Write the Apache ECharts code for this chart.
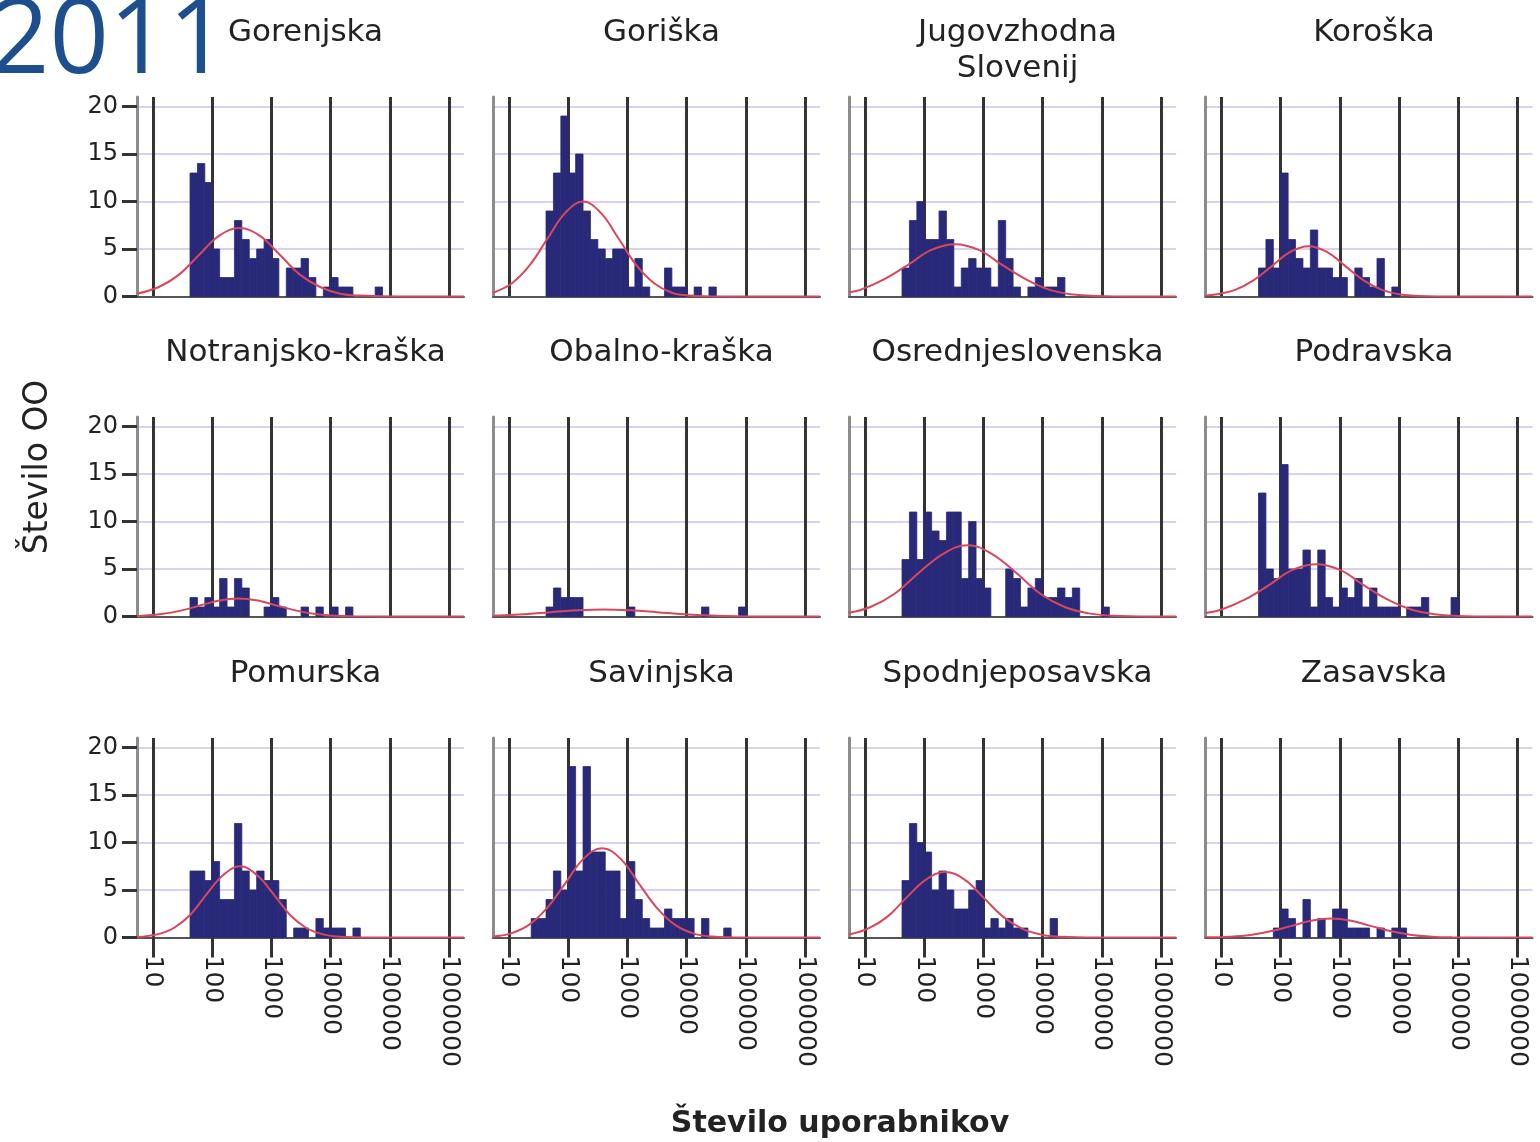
<!DOCTYPE html>
<html>
<head>
<meta charset="utf-8">
<script src="https://cdn.jsdelivr.net/npm/echarts@6/dist/echarts.min.js"></script>
<style>
  html, body { margin: 0; padding: 0; background: #fff; }
  #chart { width: 1540px; height: 1142px; }
</style>
</head>
<body>
<div id="chart"></div>
<script>
// histogram bins are in log10(users), 1/8 decade wide
const binWidth = 0.125;
const xTickValues = [1, 2, 3, 4, 5, 6];
const xTickLabels = ['10', '100', '1000', '10000', '100000', '1000000'];
const yTickValues = [0, 5, 10, 15, 20];

const regions = ['Gorenjska', 'Goriška', 'Jugovzhodna\nSlovenij', 'Koroška',
  'Notranjsko-kraška', 'Obalno-kraška', 'Osrednjeslovenska', 'Podravska',
  'Pomurska', 'Savinjska', 'Spodnjeposavska', 'Zasavska'];

// first bin start (log10) for each region
const binStarts = [1.625, 1.625, 1.625, 1.625, 1.625, 1.625, 1.625, 1.625, 1.625, 1.375, 1.625, 1.875];

const gorenjskaCounts = [13, 14, 12, 5, 2, 2, 8, 6, 4, 5, 6, 4, 0, 3, 3, 4, 2, 0, 1, 2, 1, 1, 0, 0, 0, 1];
const goriskaCounts = [9, 13, 19, 13, 15, 9, 6, 5, 4, 5, 5, 1, 4, 1, 0, 0, 3, 1, 1, 0, 1, 0, 1];
const jugovzhodnaCounts = [3, 8, 10, 6, 6, 9, 6, 1, 3, 4, 3, 3, 1, 8, 4, 1, 0, 1, 2, 1, 1, 2];
const koroskaCounts = [3, 6, 3, 13, 6, 4, 3, 7, 3, 3, 2, 2, 0, 3, 2, 1, 4, 0, 1];
const notranjskoCounts = [2, 1, 2, 1, 4, 1, 4, 3, 0, 0, 1, 2, 1, 0, 0, 1, 0, 1, 0, 1, 0, 1];
const obalnoCounts = [1, 3, 2, 2, 2, 0, 0, 0, 0, 0, 0, 1, 0, 0, 0, 0, 0, 0, 0, 0, 0, 1, 0, 0, 0, 0, 1];
const osrednjeCounts = [6, 11, 6, 11, 9, 8, 11, 11, 4, 10, 4, 3, 0, 0, 5, 4, 1, 3, 4, 2, 2, 3, 2, 3, 0, 0, 0, 1];
const podravskaCounts = [13, 5, 4, 16, 5, 5, 7, 1, 7, 2, 1, 3, 2, 4, 1, 3, 1, 1, 1, 0, 1, 1, 2, 0, 0, 0, 2];
const pomurskaCounts = [7, 7, 6, 8, 4, 4, 12, 7, 5, 7, 6, 6, 4, 0, 1, 1, 0, 2, 1, 1, 1, 0, 1];
const savinjskaCounts = [2, 2, 4, 7, 5, 18, 7, 18, 9, 9, 7, 7, 2, 8, 4, 2, 1, 1, 3, 2, 2, 2, 0, 2, 0, 0, 1];
const spodnjeCounts = [6, 12, 10, 9, 5, 7, 5, 3, 3, 5, 6, 1, 2, 1, 2, 1, 1, 0, 0, 0, 2];
const zasavskaCounts = [1, 3, 2, 0, 4, 0, 2, 0, 3, 3, 1, 1, 1, 0, 1, 0, 1, 1];

// normal curve: [log10(users), count]
const gorenjskaCurve = [[0.73, 0.3], [1.10, 1.0], [1.44, 2.3], [1.78, 4.4], [2.12, 6.4], [2.46, 7.2], [2.80, 6.4], [3.14, 4.4], [3.48, 2.3], [3.82, 1.0], [4.16, 0.3], [4.50, 0.1], [5.2, 0], [6.25, 0]];
const goriskaCurve = [[0.73, 0.4], [1.05, 1.4], [1.35, 3.3], [1.65, 6.1], [1.95, 8.8], [2.25, 10], [2.55, 8.8], [2.85, 6.1], [3.15, 3.3], [3.45, 1.4], [3.75, 0.4], [4.05, 0.1], [4.6, 0], [6.25, 0]];
const jugovzhodnaCurve = [[0.73, 0.45], [0.92, 0.7], [1.32, 1.8], [1.72, 3.3], [2.12, 4.9], [2.52, 5.5], [2.92, 4.9], [3.32, 3.3], [3.72, 1.8], [4.12, 0.7], [4.52, 0.2], [4.92, 0.06], [5.5, 0], [6.25, 0]];
const koroskaCurve = [[0.73, 0.1], [0.92, 0.23], [1.23, 0.7], [1.54, 1.7], [1.85, 3.2], [2.16, 4.7], [2.47, 5.3], [2.78, 4.7], [3.09, 3.2], [3.40, 1.7], [3.71, 0.7], [4.02, 0.2], [4.33, 0.06], [5.0, 0], [6.25, 0]];
const notranjskoCurve = [[0.73, 0.05], [0.82, 0.08], [1.14, 0.26], [1.47, 0.62], [1.79, 1.15], [2.12, 1.68], [2.44, 1.9], [2.77, 1.68], [3.09, 1.15], [3.42, 0.62], [3.74, 0.26], [4.07, 0.08], [4.39, 0.02], [5.0, 0], [6.25, 0]];
const obalnoCurve = [[0.73, 0.09], [0.8, 0.1], [1.25, 0.24], [1.7, 0.46], [2.15, 0.66], [2.6, 0.75], [3.05, 0.66], [3.5, 0.46], [3.95, 0.24], [4.4, 0.1], [4.85, 0.03], [5.3, 0.01], [6.25, 0]];
const osrednjeCurve = [[0.73, 0.4], [1.09, 1.0], [1.50, 2.4], [1.91, 4.6], [2.32, 6.6], [2.73, 7.5], [3.14, 6.6], [3.55, 4.6], [3.96, 2.4], [4.37, 1.0], [4.78, 0.33], [5.19, 0.08], [5.8, 0], [6.25, 0]];
const podravskaCurve = [[0.73, 0.36], [1.0, 0.74], [1.4, 1.8], [1.8, 3.3], [2.2, 4.9], [2.6, 5.5], [3.0, 4.9], [3.4, 3.3], [3.8, 1.8], [4.2, 0.74], [4.6, 0.24], [5.0, 0.06], [5.6, 0], [6.25, 0]];
const pomurskaCurve = [[0.73, 0.06], [1.07, 0.33], [1.35, 1.0], [1.63, 2.4], [1.91, 4.6], [2.19, 6.6], [2.47, 7.5], [2.75, 6.6], [3.03, 4.6], [3.31, 2.4], [3.59, 1.0], [3.87, 0.33], [4.15, 0.08], [4.7, 0], [6.25, 0]];
const savinjskaCurve = [[0.73, 0.11], [1.02, 0.41], [1.33, 1.3], [1.64, 3.1], [1.95, 5.7], [2.26, 8.3], [2.57, 9.4], [2.88, 8.3], [3.19, 5.7], [3.50, 3.1], [3.81, 1.3], [4.12, 0.41], [4.43, 0.1], [5.0, 0], [6.25, 0]];
const spodnjeCurve = [[0.73, 0.31], [1.05, 0.93], [1.38, 2.2], [1.70, 4.2], [2.03, 6.1], [2.35, 6.9], [2.68, 6.1], [3.0, 4.2], [3.33, 2.2], [3.65, 0.93], [3.98, 0.3], [4.3, 0.08], [4.9, 0], [6.25, 0]];
const zasavskaCurve = [[0.73, 0.02], [1.15, 0.09], [1.49, 0.27], [1.83, 0.65], [2.17, 1.2], [2.51, 1.76], [2.85, 2.0], [3.19, 1.76], [3.53, 1.2], [3.87, 0.65], [4.21, 0.27], [4.55, 0.09], [4.89, 0.02], [5.5, 0], [6.25, 0]];

const allCounts = [gorenjskaCounts, goriskaCounts, jugovzhodnaCounts, koroskaCounts,
  notranjskoCounts, obalnoCounts, osrednjeCounts, podravskaCounts,
  pomurskaCounts, savinjskaCounts, spodnjeCounts, zasavskaCounts];
const allCurves = [gorenjskaCurve, goriskaCurve, jugovzhodnaCurve, koroskaCurve,
  notranjskoCurve, obalnoCurve, osrednjeCurve, podravskaCurve,
  pomurskaCurve, savinjskaCurve, spodnjeCurve, zasavskaCurve];

// layout
const colLeft = [137, 493, 849, 1205.5];
const rowTop = [97, 417, 738];
const gridW = 327, gridH = 199.5;
const font = 'DejaVu Sans';
const barColor = '#29297a';

const grids = [], xAxes = [], yAxes = [], series = [], titles = [];

const renderBar = (params, api) => {
  if (!api.value(2)) return null;
  const p0 = api.coord([api.value(0), api.value(2)]);
  const p1 = api.coord([api.value(1), 0]);
  return {
    type: 'rect',
    shape: { x: p0[0], y: p0[1], width: p1[0] - p0[0], height: p1[1] - p0[1] },
    style: { fill: barColor, stroke: barColor, lineWidth: 0.8 }
  };
};

regions.forEach((name, i) => {
  const row = Math.floor(i / 4), col = i % 4;
  const bottom = row === 2, left = col === 0;
  grids.push({ left: colLeft[col], top: rowTop[row], width: gridW, height: gridH });
  xAxes.push({
    type: 'value', gridIndex: i, min: 0.73, max: 6.25,
    axisLine: { show: true, onZero: false, lineStyle: { color: '#555', width: 2 } },
    axisTick: { show: bottom, customValues: xTickValues, length: 20, lineStyle: { color: '#333', width: 3 } },
    axisLabel: {
      show: bottom, customValues: xTickValues, rotate: -90, margin: 18,
      fontSize: 25, fontFamily: font, color: '#222',
      formatter: v => xTickLabels[xTickValues.indexOf(v)] || ''
    },
    splitLine: { show: true, lineStyle: { color: '#333', width: 3 } }
  });
  yAxes.push({
    type: 'value', gridIndex: i, min: 0, max: 21,
    axisLine: { show: true, onZero: false, lineStyle: { color: '#8c8c8c', width: 3 } },
    axisTick: { show: left, customValues: yTickValues, length: 15, lineStyle: { color: '#333', width: 3 } },
    axisLabel: { show: left, customValues: yTickValues, margin: 19, fontSize: 24, fontFamily: font, color: '#222' },
    splitLine: { show: true, lineStyle: { color: '#dccff0', width: 2 } }
  });
  const bins = allCounts[i].map((c, k) => {
    const x0 = binStarts[i] + k * binWidth;
    return [x0, x0 + binWidth, c];
  });
  series.push({
    type: 'custom', xAxisIndex: i, yAxisIndex: i, z: 3,
    renderItem: renderBar, encode: { x: [0, 1], y: 2 }, data: bins
  });
  series.push({
    type: 'line', xAxisIndex: i, yAxisIndex: i, z: 4,
    data: allCurves[i], smooth: 0.4, symbol: 'none',
    lineStyle: { color: '#d9475c', width: 2 }
  });
  titles.push({
    text: name, left: colLeft[col] + gridW / 2, top: rowTop[row] - 87, textAlign: 'center',
    textStyle: { fontFamily: font, fontSize: 31, fontWeight: 'normal', color: '#222', lineHeight: 36 }
  });
});

titles.push({
  text: '2011', left: -15, top: -14,
  textStyle: { fontFamily: 'Open Sans', fontSize: 104, fontWeight: 'normal', color: '#1d4f8f' }
});
titles.push({
  text: 'Število uporabnikov', left: 835, top: 1104, textAlign: 'center',
  textStyle: { fontFamily: font, fontSize: 30, fontWeight: 'bold', color: '#222' }
});

const chart = echarts.init(document.getElementById('chart'));
chart.setOption({
  animation: false,
  backgroundColor: '#fff',
  title: titles,
  grid: grids,
  xAxis: xAxes,
  yAxis: yAxes,
  series: series,
  graphic: [{
    type: 'text', x: 38, y: 467, rotation: Math.PI / 2,
    style: { text: 'Število OO', fontFamily: font, fontSize: 33, fill: '#222', align: 'center', verticalAlign: 'middle' }
  }]
});
</script>
</body>
</html>
